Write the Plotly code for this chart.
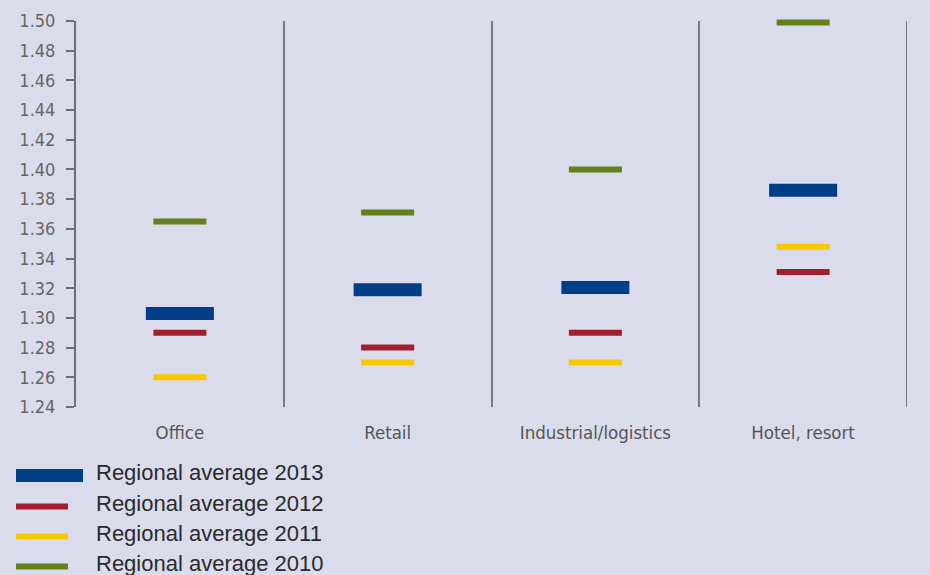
import plotly.graph_objects as go

# Category axis and the regional averages per year
categories = ["Office", "Retail", "Industrial/logistics", "Hotel, resort"]
avg_2013 = [1.303, 1.319, 1.3205, 1.386]
avg_2012 = [1.290, 1.280, 1.290, 1.331]
avg_2011 = [1.260, 1.270, 1.270, 1.348]
avg_2010 = [1.365, 1.371, 1.400, 1.499]

series_names = ["Regional average 2013", "Regional average 2012",
                "Regional average 2011", "Regional average 2010"]
series_values = [avg_2013, avg_2012, avg_2011, avg_2010]
series_colors = ["#003f87", "#a01f2c", "#fac800", "#65801a"]
series_thick = [13, 6, 6, 6]      # stroke thickness in px
series_len = [68, 53, 53, 53]     # dash length in px

y_ticks = [round(1.24 + 0.02 * i, 2) for i in range(14)]

BG = "#dadcec"
AXIS_GREY = "#6e6e72"
W, H = 930, 575
L, R, T, B = 76, 23, 21, 168
NARROW = "Liberation Sans Narrow, DejaVu Sans Condensed, Arial Narrow, sans-serif"

fig = go.Figure()

# Draw the larger/back series first so thin dashes sit on top
for name, vals, col, thick, length in reversed(list(zip(
        series_names, series_values, series_colors, series_thick, series_len))):
    fig.add_trace(go.Scatter(
        x=categories, y=vals, mode="markers", name=name,
        marker=dict(symbol="line-ew", size=length / 1.4, color=col,
                    line=dict(color=col, width=thick)),
        cliponaxis=False, showlegend=False,
        hovertemplate="%{x}: %{y:.3f}<extra>" + name + "</extra>",
    ))

# Legend drawn below the chart in pixel positions
def px_x(p):
    return (p - L) / (W - L - R)

def px_y(p):
    return (H - B - p) / (H - T - B)

legend_rows = [475.5, 506.5, 536.5, 566.5]
shapes = [
    # closing separator on the right edge of the last category
    dict(type="line", xref="x", yref="paper", x0=3.5, x1=3.5, y0=0, y1=1,
         line=dict(color="#7a7a7e", width=2), layer="below"),
]
annotations = []
for name, col, thick, length, yc in zip(series_names, series_colors,
                                        series_thick, series_len, legend_rows):
    x0 = 16
    x1 = 16 + (67 if thick > 6 else 52)
    shapes.append(dict(type="rect", xref="paper", yref="paper",
                       x0=px_x(x0), x1=px_x(x1),
                       y0=px_y(yc - thick / 2), y1=px_y(yc + thick / 2),
                       fillcolor=col, line=dict(width=0), layer="above"))
    annotations.append(dict(xref="paper", yref="paper", x=px_x(95), y=px_y(yc - 3.5),
                            xanchor="left", yanchor="middle", showarrow=False,
                            text=name, borderpad=0,
                            font=dict(family="Liberation Sans, Arial, sans-serif",
                                      size=22, color="#2a2a2a")))

fig.update_layout(
    width=W, height=H,
    margin=dict(l=L, r=R, t=T, b=B, autoexpand=False),
    paper_bgcolor=BG, plot_bgcolor=BG,
    showlegend=False,
    shapes=shapes,
    annotations=annotations,
    xaxis=dict(
        type="category", categoryarray=categories, range=[-0.5, 3.5],
        tickson="boundaries", ticks="", showgrid=True,
        gridcolor="#7a7a7e", gridwidth=2,
        showline=False, zeroline=False, automargin=False,
        tickfont=dict(family=NARROW, size=18.5, color="#555555"),
        ticklabelstandoff=12,
    ),
    yaxis=dict(
        range=[1.24, 1.50], tickvals=y_ticks,
        ticktext=[f"{v:.2f}" for v in y_ticks],
        ticks="outside", ticklen=8, tickcolor=AXIS_GREY, tickwidth=1.5,
        showline=True, linecolor=AXIS_GREY, linewidth=2,
        showgrid=False, zeroline=False, automargin=False,
        tickfont=dict(family=NARROW, size=18, color="#666666"),
        ticklabelstandoff=7,
    ),
)

fig.write_html("out.html")
